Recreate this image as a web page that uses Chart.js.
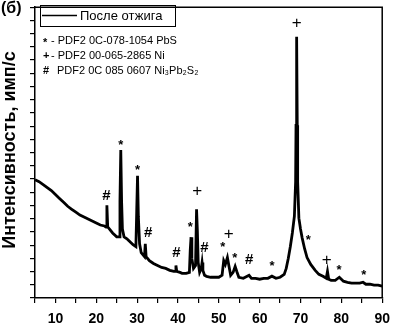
<!DOCTYPE html>
<html lang="ru">
<head>
<meta charset="UTF-8" />
<title>XRD после отжига</title>
<style>
  body { margin: 0; background: #fff; }
  #wrap { width: 398px; height: 324px; }
</style>
</head>
<body>
<div id="wrap"><canvas id="xrd" width="398" height="324"></canvas></div>

<script src="https://cdn.jsdelivr.net/npm/chart.js"></script>
<script>
  // 2θ, degrees
  const angles = [
    5, 6, 7, 8, 9, 10, 11, 12, 13, 14, 15, 16, 17, 18, 19, 20, 21, 22, 22.4, 22.6, 22.8, 23, 24, 25,
    25.6, 25.8, 26.0, 26.2, 26.4, 26.8, 27.5, 28, 29, 29.7, 29.9, 30.1, 30.3, 30.6, 31, 31.8, 32.0, 32.2,
    33, 34, 35, 36, 37, 38, 39, 39.3, 39.5, 39.7, 40.5, 41, 42, 42.8, 43.0, 43.2, 43.4, 43.8, 44.3, 44.55,
    44.75, 44.95, 45.3, 45.7, 45.9, 46.1, 46.5, 47, 48, 49, 50, 50.8, 51.2, 51.6, 52.1, 52.5, 52.9, 53.5,
    54.0, 54.4, 54.9, 56, 57.4, 58, 59, 60, 61, 62, 63, 64, 65, 66, 66.5, 67, 67.5, 68, 68.5, 68.8, 68.9,
    69.05, 69.2, 69.3, 69.6, 70, 70.4, 71, 71.6, 72.5, 73.6, 74.5, 75.5, 76.3, 76.6, 76.9, 77.5, 78.5,
    79.5, 80.5, 81.5, 82.5, 83.5, 84.5, 85.3, 86, 87, 88, 89, 90
  ];
  // intensity, counts/s
  const counts = [
    895, 880, 858, 835, 813, 783, 753, 724, 694, 671, 649, 627, 612, 597, 582, 567, 552, 545, 537, 701, 537, 530, 492, 463,
    463, 731, 1119, 731, 522, 463, 448, 433, 403, 388, 656, 925, 619, 410, 343, 313, 410, 313,
    283, 261, 246, 231, 224, 209, 201, 201, 246, 201, 194, 187, 187, 194, 358, 460, 298, 224, 246, 671,
    507, 269, 194, 224, 269, 209, 172, 164, 157, 157, 157, 172, 283, 254, 306, 239, 172, 194,
    239, 201, 157, 149, 172, 149, 149, 142, 149, 149, 165, 149, 157, 179, 224, 298, 388, 492, 619, 880, 1306,
    1977, 1306, 880, 604, 522, 455, 373, 306, 254, 209, 179, 164, 149, 201, 142, 134, 134,
    157, 127, 119, 112, 112, 112, 119, 104, 104, 97, 97, 90
  ];
  const xTicks = [10, 20, 30, 40, 50, 60, 70, 80, 90];

  // phase marks above the peaks
  const markAngles = [22.5, 26.0, 30.1, 32.7, 39.6, 43.0, 44.7, 46.5, 51.0, 52.4, 53.9, 57.4, 63.0, 69.05, 71.9, 76.4, 79.4, 85.5];
  const markLevels = [775, 1180, 985, 495, 345, 560, 810, 380, 405, 485, 320, 290, 260, 2080, 460, 285, 230, 190];
  const markSymbols = ['#', '*', '*', '#', '#', '*', '+', '#', '*', '+', '*', '#', '*', '+', '*', '+', '*', '*'];

  const legendLabel = 'После отжига';
  const phaseLines = [
    ['*', '- PDF2 0C-078-1054 PbS'],
    ['+', '- PDF2 00-065-2865 Ni'],
    ['#', 'PDF2 0C 085 0607 Ni₃Pb₂S₂']
  ];
  const yTitle = 'Интенсивность, имп/с';

  const FONT = '"Liberation Sans", Arial, sans-serif';

  const decorations = {
    id: 'decorations',
    afterDraw(chart) {
      const ctx = chart.ctx;
      const a = chart.chartArea;
      const xs = chart.scales.x, ys = chart.scales.y;
      ctx.save();

      // top and right frame
      ctx.strokeStyle = '#000';
      ctx.lineWidth = 1.5;
      ctx.beginPath();
      ctx.moveTo(a.left, a.top);
      ctx.lineTo(a.right, a.top);
      ctx.lineTo(a.right, a.bottom);
      ctx.stroke();

      // peak marks
      ctx.fillStyle = '#000';
      ctx.textAlign = 'center';
      ctx.textBaseline = 'middle';
      markAngles.forEach((ang, i) => {
        const s = markSymbols[i];
        let px = xs.getPixelForValue(ang), py = ys.getPixelForValue(markLevels[i]);
        if (s === '*') { ctx.font = 'bold 13px ' + FONT; py += 3; }
        else if (s === '#') ctx.font = 'bold 15px ' + FONT;
        else ctx.font = '17px ' + FONT;
        ctx.fillText(s, px, py);
      });

      // legend box
      ctx.lineWidth = 1;
      ctx.strokeRect(40.5, 5.5, 135, 21);
      ctx.lineWidth = 1.5;
      ctx.beginPath();
      ctx.moveTo(42, 15.5);
      ctx.lineTo(77, 15.5);
      ctx.stroke();
      ctx.textAlign = 'left';
      ctx.font = '13px ' + FONT;
      ctx.fillText(legendLabel, 80, 16);

      // phase references
      phaseLines.forEach((ln, i) => {
        const y = 41 + i * 15;
        ctx.font = 'bold 11px ' + FONT;
        ctx.fillText(ln[0], 43, y + (ln[0] === '*' ? 2 : 0));
        ctx.font = '11px ' + FONT;
        ctx.fillText(ln[1], ln[0] === '#' ? 57 : 51, y);
      });

      // panel letter
      ctx.font = 'bold 16px ' + FONT;
      ctx.fillText('(б)', 1, 9);

      // y axis title
      ctx.translate(15, 150);
      ctx.rotate(-Math.PI / 2);
      ctx.textAlign = 'center';
      ctx.textBaseline = 'alphabetic';
      ctx.font = 'bold 18px ' + FONT;
      ctx.fillText(yTitle, 0, 0);
      ctx.restore();
    }
  };

  new Chart(document.getElementById('xrd'), {
    type: 'line',
    data: {
      datasets: [{
        label: legendLabel,
        data: angles.map((a, i) => ({ x: a, y: counts[i] })),
        borderColor: '#000',
        borderWidth: 2.8,
        pointRadius: 0,
        tension: 0
      }]
    },
    options: {
      responsive: false,
      animation: false,
      layout: { padding: { top: 3, right: 10, left: 0, bottom: 0 } },
      plugins: { legend: { display: false }, tooltip: { enabled: false } },
      scales: {
        x: {
          type: 'linear',
          min: 5, max: 90,
          afterFit: s => { s.height = 26; },
          ticks: {
            stepSize: 5,
            autoSkip: false,
            maxRotation: 0,
            padding: 8,
            color: '#000',
            font: { family: FONT, size: 14, weight: 'bold' },
            callback: v => xTicks.includes(v) ? String(v) : ''
          },
          grid: { drawOnChartArea: false, tickLength: 5, color: '#000', lineWidth: 1.2 },
          border: { color: '#000', width: 1.5 }
        },
        y: {
          min: 0, max: 2200,
          afterFit: s => { s.width = 35; },
          ticks: { stepSize: 100, autoSkip: false, padding: 0, callback: () => '' },
          grid: { drawOnChartArea: false, tickLength: 5, color: '#000', lineWidth: 1.2 },
          border: { color: '#000', width: 1.5 }
        }
      }
    },
    plugins: [decorations]
  });
</script>
</body>
</html>
